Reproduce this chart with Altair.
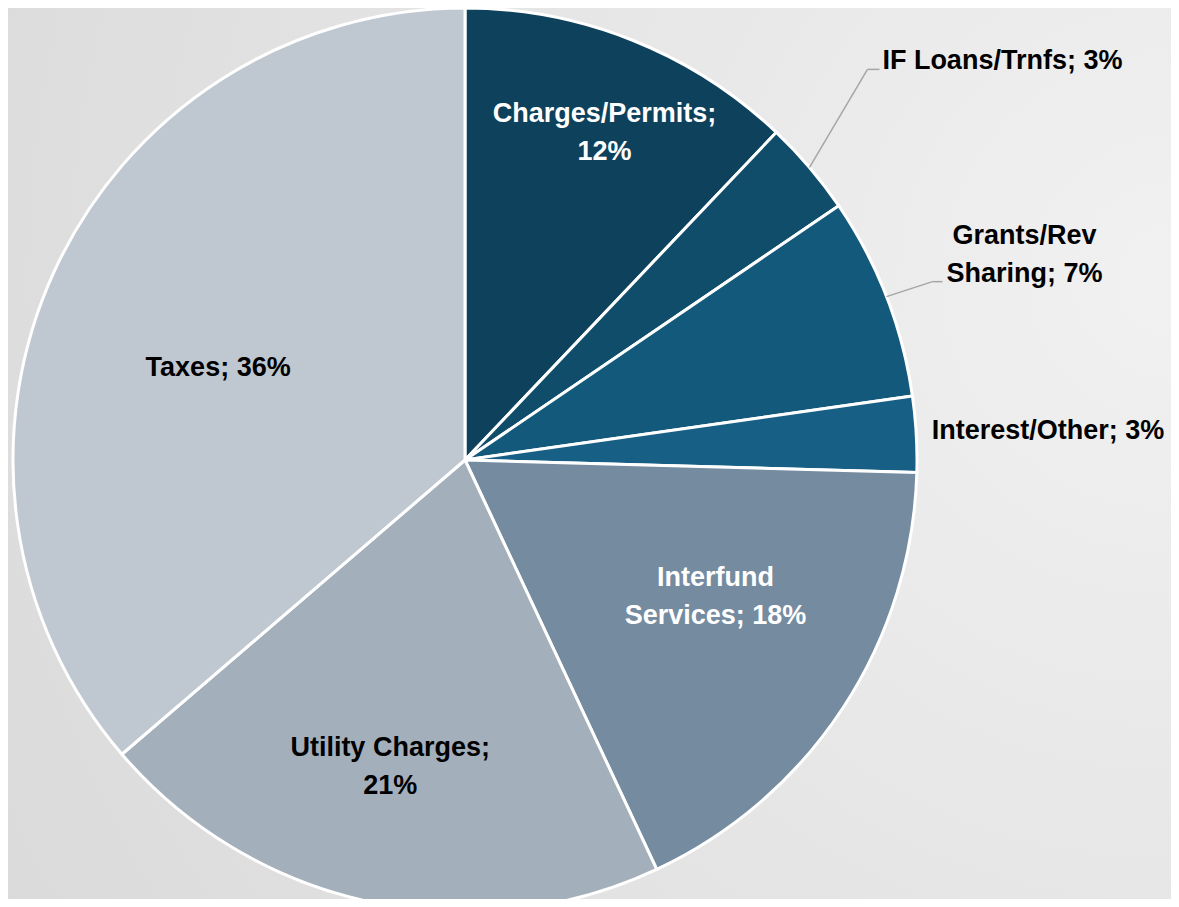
import altair as alt
import pandas as pd

# ---- data ----
categories = ["Charges/Permits", "IF Loans/Trnfs", "Grants/Rev Sharing", "Interest/Other",
              "Interfund Services", "Utility Charges", "Taxes"]
values = [12.1, 3.4, 7.25, 2.7, 17.6, 20.7, 36.3]
labels = ["Charges/Permits;\n12%", "IF Loans/Trnfs; 3%", "Grants/Rev\nSharing; 7%",
          "Interest/Other; 3%", "Interfund\nServices; 18%", "Utility Charges;\n21%", "Taxes; 36%"]

# ---- styles ----
colors = ["#0e415c", "#104d6a", "#13597b", "#175f84", "#758ba0", "#a3afba", "#bfc8d0"]
W, H = 1163, 891
CX, CY, R = 457, 452, 452
FONT = "Liberation Sans"
FSIZE = 27

label_style = {
    "Charges/Permits": dict(radius=352, dx=9, dy=-19, color="white"),
    "IF Loans/Trnfs": dict(radius=650, dx=42, dy=22, color="black"),
    "Grants/Rev Sharing": dict(radius=600, dx=0, dy=-7, color="black"),
    "Interest/Other": dict(radius=584, dx=0, dy=4, color="black"),
    "Interfund Services": dict(radius=290, dx=8, dy=-41, color="white"),
    "Utility Charges": dict(radius=313, dx=-9, dy=-18, color="black"),
    "Taxes": dict(radius=264, dx=-7, dy=18, color="black"),
}
leader_style = {
    "IF Loans/Trnfs": dict(ex=58, ey=-98, hx=12),
    "Grants/Rev Sharing": dict(ex=46, ey=-15, hx=10),
}

df = pd.DataFrame({"category": categories, "value": values, "label": labels,
                   "order": list(range(len(categories)))})

base = alt.Chart(df)

bg = alt.Chart(pd.DataFrame({"a": [0]})).mark_rect(
    color={"gradient": "radial", "x1": 1.0, "y1": 0.35, "r1": 0.0,
           "x2": 1.0, "y2": 0.35, "r2": 1.2,
           "stops": [{"offset": 0, "color": "#f1f1f1"},
                     {"offset": 1, "color": "#d9d9d9"}]}
).encode(x=alt.value(0), x2=alt.value(W), y=alt.value(0), y2=alt.value(H))

pie = base.mark_arc(outerRadius=R, stroke="white", strokeWidth=3).encode(
    theta=alt.Theta("value:Q", stack=True),
    color=alt.Color("category:N", scale=alt.Scale(domain=categories, range=colors), legend=None),
    order=alt.Order("order:Q"),
    x=alt.value(CX), y=alt.value(CY),
)

def with_mid(chart):
    return (chart
            .transform_joinaggregate(total="sum(value)")
            .transform_window(cum="sum(value)", sort=[alt.SortField("order")], frame=[None, 0])
            .transform_calculate(mid="2*PI*(datum.cum - datum.value/2)/datum.total"))

layers = [bg, pie]

for cat, st in leader_style.items():
    c = with_mid(base).transform_filter(alt.datum.category == cat).transform_calculate(
        ex=f"{CX} + {R}*sin(datum.mid)",
        ey=f"{CY} - {R}*cos(datum.mid)",
    ).transform_calculate(
        bx=f"datum.ex + {st['ex']}",
        by=f"datum.ey + {st['ey']}",
    ).transform_calculate(
        cx2=f"datum.bx + {st['hx']}",
    )
    seg1 = c.mark_rule(color="#a6a6a6", strokeWidth=1.5).encode(
        x=alt.X("ex:Q", scale=None, axis=None), y=alt.Y("ey:Q", scale=None, axis=None),
        x2="bx:Q", y2="by:Q")
    seg2 = c.mark_rule(color="#a6a6a6", strokeWidth=1.5).encode(
        x=alt.X("bx:Q", scale=None, axis=None), y=alt.Y("by:Q", scale=None, axis=None),
        x2="cx2:Q", y2="by:Q")
    layers += [seg1, seg2]

for cat, st in label_style.items():
    t = with_mid(base).transform_filter(alt.datum.category == cat).mark_text(
        radius=st["radius"], dx=st["dx"], dy=st["dy"], color=st["color"],
        font=FONT, fontSize=FSIZE, fontWeight="bold", align="center", baseline="middle",
        lineBreak="\n", lineHeight=38,
    ).encode(
        theta=alt.Theta("mid:Q", scale=None, stack=None),
        text="label:N",
        x=alt.value(CX), y=alt.value(CY),
    )
    layers.append(t)

chart = alt.layer(*layers).properties(
    width=W, height=H, padding=0, autosize="none", background="#e4e4e4"
).configure_view(stroke=None)

chart.save("out.html", embed_options={"renderer": "svg", "actions": False})
